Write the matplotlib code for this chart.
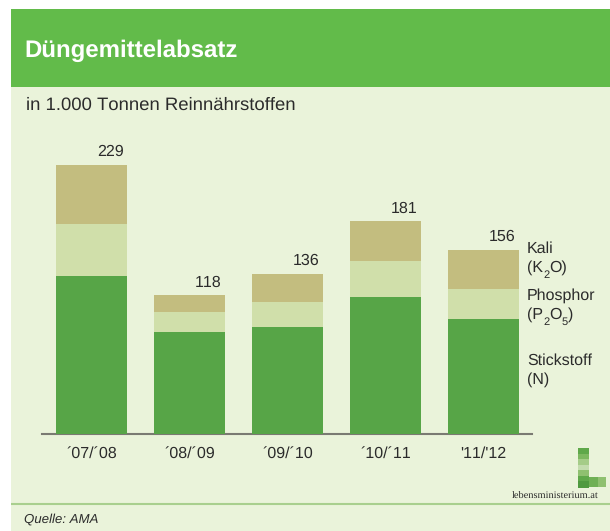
import matplotlib
matplotlib.use("Agg")
import matplotlib.pyplot as plt
import numpy as np
from matplotlib.patches import Rectangle

plt.rcParams['font.family'] = ['Liberation Sans', 'DejaVu Sans']
plt.rcParams['text.hinting'] = 'no_hinting'
plt.rcParams['text.kerning_factor'] = 6

# data (1.000 t)
jahre = ["´07/´08", "´08/´09", "´09/´10", "´10/´11", "'11/'12"]
stickstoff = [134.5, 87, 91, 117, 98]
phosphor = [44.5, 17, 21, 30, 25.5]
kali = [50, 14, 24, 34, 33]
totale = [229, 118, 136, 181, 156]

W, H = 610, 531
col_fond = '#eaf3da'
col_tete = '#62bb4a'
col_n = '#57a547'
col_p = '#d0dfaa'
col_k = '#c3bd7f'
col_txt = '#2b2b2b'

fig = plt.figure(figsize=(W / 100, H / 100), dpi=100, facecolor='white')

# calque en pixels pour le fond et les textes
bg = fig.add_axes([0, 0, 1, 1])
bg.set_xlim(0, W)
bg.set_ylim(H, 0)
bg.axis('off')
bg.add_patch(Rectangle((11, 9), W - 11, H - 9, color=col_fond, lw=0))
bg.add_patch(Rectangle((11, 9), W - 11, 78, color=col_tete, lw=0))
bg.plot([11, W], [504, 504], color='#a9cf8e', lw=1.5, solid_capstyle='butt')

bg.text(24.5, 51, "Düngemittelabsatz", color='white', fontsize=17.3, fontweight='bold', va='center')
bg.text(26, 105.5, "in 1.000 Tonnen Reinnährstoffen", color=col_txt, fontsize=13.3, va='center')
bg.text(24, 519.5, "Quelle: AMA", color=col_txt, fontsize=9.5, style='italic', va='center')


def texte_indice(x, y, morceaux):
    # morceaux : (texte, indice ?), posés l'un après l'autre
    rend = fig.canvas.get_renderer()
    for s, indice in morceaux:
        if indice:
            t = bg.text(x, y + 7, s, color=col_txt, fontsize=8, va='center')
        else:
            t = bg.text(x, y, s, color=col_txt, fontsize=11.5, va='center')
        x += t.get_window_extent(rend).width


# legende a droite
bg.text(527, 248.5, "Kali", color=col_txt, fontsize=11.5, va='center')
texte_indice(527, 268, [("(K", False), ("2", True), ("O)", False)])
bg.text(527, 295.5, "Phosphor", color=col_txt, fontsize=11.5, va='center')
texte_indice(527, 315, [("(P", False), ("2", True), ("O", False), ("5", True), (")", False)])
bg.text(527, 360.5, "Stickstoff", color=col_txt, fontsize=11.5, va='center')
bg.text(527, 380, "(N)", color=col_txt, fontsize=11.5, va='center')

# logo
verts = ['#5fa84a', '#7db860', '#a5cc88', '#c3dcae', '#8fc070', '#5fa84a', '#4f9a3f']
for i, c in enumerate(verts):
    bg.add_patch(Rectangle((578, 448 + i * 39 / 7), 11, 39 / 7 + 0.5, color=c, lw=0))
bg.add_patch(Rectangle((589, 477), 9, 10, color='#6fb055', lw=0))
bg.add_patch(Rectangle((598, 477), 8, 10, color='#8fc070', lw=0))
bg.text(555, 496, "lebensministerium.at", color=col_txt, fontsize=7.5,
        family='Liberation Serif', ha='center', va='center')

# barres
x0, x1 = 42, 532
y_bas, y_haut = 434, 134
ax = fig.add_axes([x0 / W, 1 - y_bas / H, (x1 - x0) / W, (y_bas - y_haut) / H])
ax.patch.set_alpha(0)
x = np.arange(len(jahre))
ax.set_xlim(-0.505, 4.495)
ax.set_ylim(0, (y_bas - y_haut) / 1.175)

large = 71 / 98
n = np.array(stickstoff)
p = np.array(phosphor)
k = np.array(kali)
ax.bar(x, n, large, color=col_n, zorder=3)
ax.bar(x, p, large, bottom=n, color=col_p, zorder=3)
ax.bar(x, k, large, bottom=n + p, color=col_k, zorder=3)

for xi, tot, haut in zip(x, totale, n + p + k):
    ax.annotate(str(tot), (xi + large / 2, haut), xytext=(-2.5, 4), textcoords='offset points',
                ha='right', va='bottom', fontsize=11.5, color=col_txt)

for s in ['top', 'left', 'right']:
    ax.spines[s].set_visible(False)
ax.spines['bottom'].set_color('#7a7a72')
ax.spines['bottom'].set_linewidth(1.5)
ax.set_yticks([])
ax.set_xticks(x, jahre, fontsize=11.5, color=col_txt)
ax.tick_params(axis='x', length=0, pad=9)

fig.savefig('out.png', dpi=100, facecolor='white')
